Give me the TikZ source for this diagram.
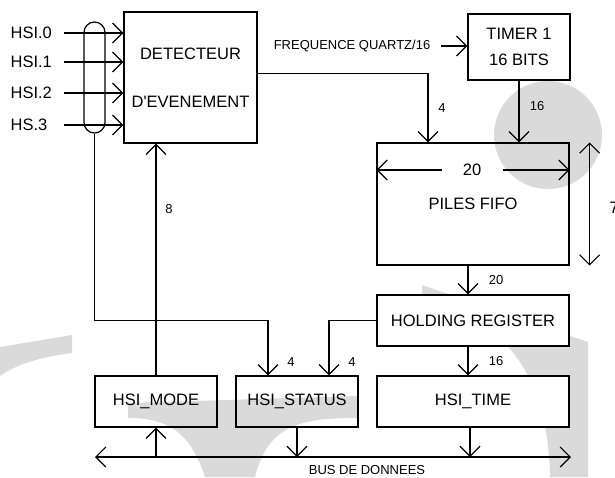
\documentclass[tikz,border=0pt]{standalone}
\usepackage{fontspec}
\setmainfont{Liberation Sans}[Ligatures=TeXOff]
\usetikzlibrary{arrows.meta, positioning, calc}
\definecolor{wmark}{RGB}{218,218,218}
\newcommand{\bigtxt}{\fontsize{16.5}{19.8}\selectfont}
\newcommand{\smalltxt}{\fontsize{13}{15.6}\selectfont}

\begin{document}
\begin{tikzpicture}[x=1pt, y=-1pt, line width=1.2pt,
  blk/.style={draw, inner sep=0pt, font=\bigtxt, align=center},
  lbl/.style={font=\smalltxt, inner sep=0pt},
  arr/.style={-{Straight Barb[length=10pt,width=20pt]}},
  arrs/.style={{Straight Barb[length=10pt,width=20pt]}-{Straight Barb[length=10pt,width=20pt]}}]
  \useasboundingbox (0,0) rectangle (615,477);
  % grey watermark behind everything
  \fill[wmark] (548,135) circle (54pt);
  \fill[wmark] (0,347) -- (72,335) -- (72,353) .. controls (40,357) and (15,365) .. (0,376) -- cycle;
  \fill[wmark] (128,403) -- (357,396) -- (357,418) .. controls (300,418) and (268,425) .. (255,477)
    -- (205,477) .. controls (190,430) and (165,418) .. (128,418) -- cycle;
  \fill[wmark] (422,285) -- (588,342) -- (588,477) -- (550,477) .. controls (548,370) and (500,315) .. (422,303) -- cycle;

  % event detector and its inputs
  \node[blk, minimum width=133, minimum height=131] (det) at (190.5,77.5) {DETECTEUR\\[28pt]D'EVENEMENT};
  \node[draw, rounded corners=10.5pt, minimum width=21, minimum height=111, inner sep=0pt] (bund) at (94.5,77.5) {};
  \foreach \n/\t/\y in {0/HSI.0/33, 1/HSI.1/62, 2/HSI.2/93, 3/HS.3/125} {
    \node[anchor=west, font=\bigtxt, inner sep=0pt] (in\n) at (10,\y) {\t};
    \draw[arr] ([xshift=54pt]in\n.west) -- (in\n -| det.west);
  }

  % timer and fifo
  \node[lbl] (freq) at (352,46) {FREQUENCE QUARTZ/16};
  \node[blk, minimum width=102, minimum height=66] (timer) at (519,47) {TIMER 1\\[6pt]16 BITS};
  \node[blk, minimum width=192, minimum height=122] (fifo) at (473,204) {PILES FIFO};
  \node[font=\bigtxt, inner sep=0pt] (w20) at (472,170) {20};
  \node[anchor=west, font=\bigtxt, inner sep=0pt] (n7) at (609,208) {7};
  \draw[arr] ([xshift=10pt]freq.east) -- (freq.east -| timer.west);
  \draw[arr] (timer.south) -- (timer.south |- fifo.north);
  \node[lbl] (n16a) at (537,106) {16};
  \draw[arr] ([yshift=4pt]det.east) -| ([xshift=-45pt]fifo.north);
  \node[lbl] (n4a) at (442,108) {4};
  \draw[arr] ([xshift=-30pt]w20.center) -- (w20 -| fifo.west);
  \draw[arr] ([xshift=31pt]w20.center) -- (w20 -| fifo.east);
  \draw[arrs] ([xshift=20pt]fifo.north east) -- ([xshift=20pt]fifo.south east);

  % holding register and the three registers
  \node[blk, fill=white, minimum width=192, minimum height=51] (hold) at (473,320.5) {HOLDING REGISTER};
  \node[blk, fill=white, minimum width=192, minimum height=51] (time) at (473,401.5) {HSI\_TIME};
  \node[blk, minimum width=122, minimum height=51] (mode) at (156,401.5) {HSI\_MODE};
  \node[blk, minimum width=122, minimum height=51] (stat) at (297,401.5) {HSI\_STATUS};
  \draw[arr] ([xshift=-5pt]fifo.south) -- ([xshift=-5pt]fifo.south |- hold.north);
  \node[lbl] (n20) at (496,280) {20};
  \draw[arr] ([xshift=-5pt]hold.south) -- ([xshift=-5pt]hold.south |- time.north);
  \node[lbl] (n16b) at (496,361) {16};
  \draw[arr] (bund.south) |- ([xshift=-29pt]stat.north |- hold.west) -- ([xshift=-29pt]stat.north);
  \node[lbl] (n4b) at (291,362) {4};
  \draw[arr] (hold.west) -| ([xshift=32pt]stat.north);
  \node[lbl] (n4c) at (352,362) {4};
  \draw[arr] (mode.north) -- (mode.north |- det.south);
  \node[lbl] (n8) at (169,209) {8};

  % data bus
  \coordinate (busL) at (95,457);
  \coordinate (busR) at (571,457);
  \draw[arrs] (busL) -- (busR);
  \draw[arr] (mode.south |- busL) -- (mode.south);
  \draw[arr] (stat.south) -- (stat.south |- busL);
  \draw[arr] ([xshift=-3pt]time.south) -- ([xshift=-3pt]time.south |- busL);
  \node[lbl] (busname) at (367,470) {BUS DE DONNEES};
\end{tikzpicture}
\end{document}
